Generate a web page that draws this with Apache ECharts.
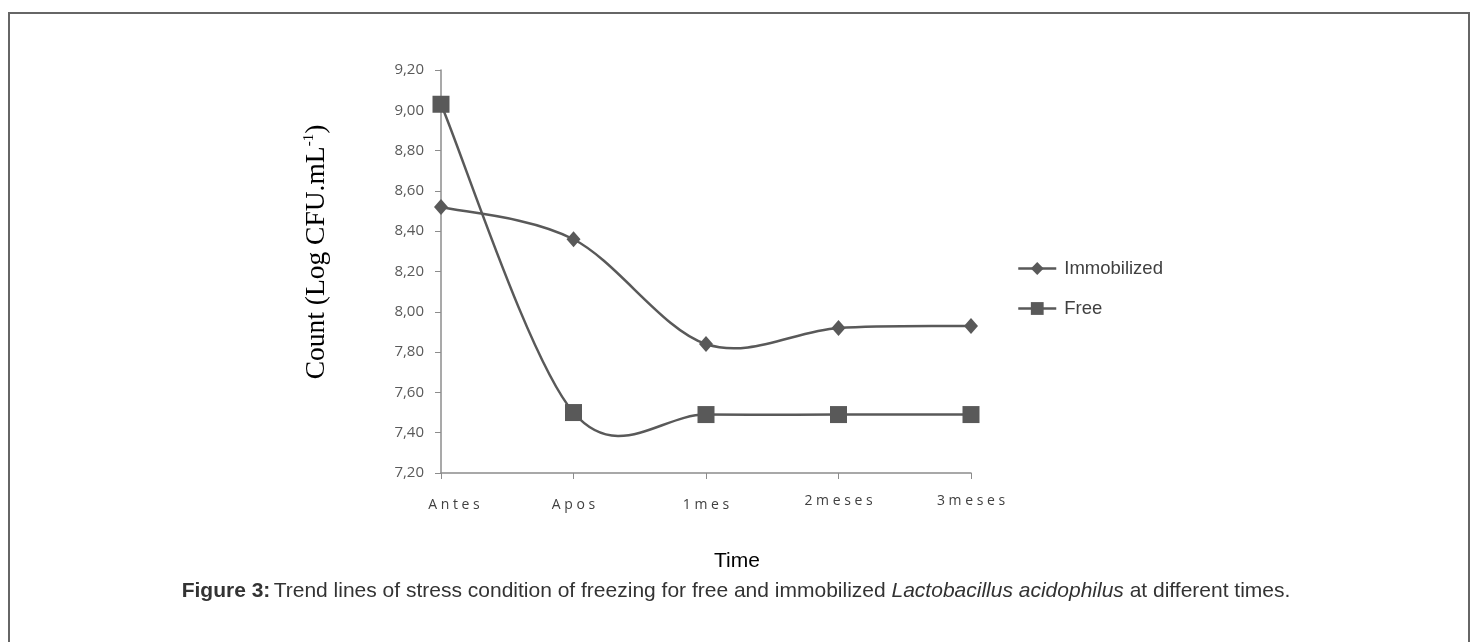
<!DOCTYPE html>
<html>
<head>
<meta charset="utf-8">
<script src="https://cdn.jsdelivr.net/npm/echarts@6/dist/echarts.min.js"></script>
<style>
  html, body { margin: 0; padding: 0; background: #fff; }
  #main { width: 1473px; height: 642px; }
</style>
</head>
<body>
<div id="main"></div>
<script>
// data
var categories = ['Antes', 'Apos', '1mes', '2meses', '3meses']
var immobilized = [8.52, 8.36, 7.84, 7.92, 7.93]
var free = [9.03, 7.50, 7.49, 7.49, 7.49]
var yTicks = [7.2, 9.2, 0.2] // min, max, step

var chart = echarts.init(document.getElementById('main'))

function spaced (s) {
  return s.split('').join(' ')
}

// excel-like smoothed line (catmull-rom through the points), drawn with the axis scales
function curveSeries (name, values) {
  return {
    name: name + ' curve',
    type: 'custom',
    z: 1,
    silent: true,
    data: values.map(function (v, k) { return [k, v] }),
    renderItem: function (params, api) {
      if (params.dataIndex !== 0) return null
      var p = values.map(function (v, k) { return api.coord([k, v]) })
      var kids = []
      for (var k = 0; k < p.length - 1; k++) {
        var p0 = p[Math.max(k - 1, 0)]
        var p1 = p[k]
        var p2 = p[k + 1]
        var p3 = p[Math.min(k + 2, p.length - 1)]
        kids.push({
          type: 'bezierCurve',
          shape: {
            x1: p1[0], y1: p1[1],
            x2: p2[0], y2: p2[1],
            cpx1: p1[0] + (p2[0] - p0[0]) / 6,
            cpy1: p1[1] + (p2[1] - p0[1]) / 6,
            cpx2: p2[0] - (p3[0] - p1[0]) / 6,
            cpy2: p2[1] - (p3[1] - p1[1]) / 6
          },
          style: { fill: 'none', stroke: '#595959', lineWidth: 2.5 }
        })
      }
      return { type: 'group', children: kids }
    }
  }
}

var labelFont = { fontFamily: 'Open Sans', fontSize: 14, color: '#404040' }

var option = {
  backgroundColor: '#fff',
  animation: false,
  grid: {
    left: 441,
    right: 502,
    top: 70,
    bottom: 169
  },
  legend: {
    orient: 'vertical',
    left: 1012,
    top: 254,
    itemWidth: 38,
    itemHeight: 16,
    itemGap: 21,
    lineStyle: { color: '#595959', width: 2.5, opacity: 1 },
    textStyle: {
      fontFamily: 'Liberation Sans',
      fontSize: 18.5,
      color: '#404040',
      padding: [0, 0, 0, 3]
    },
    data: ['Immobilized', 'Free']
  },
  xAxis: {
    type: 'category',
    boundaryGap: false,
    data: categories,
    axisLine: { lineStyle: { color: '#8c8c8c', width: 1.5 } },
    axisTick: { show: true, length: 6, interval: 0, alignWithLabel: true, lineStyle: { color: '#8c8c8c' } },
    axisLabel: {
      interval: 0,
      hideOverlap: false,
      margin: 21,
      fontFamily: 'Open Sans',
      fontSize: 14,
      color: '#404040',
      formatter: function (v, i) {
        if (i === 0) return '{first|' + spaced(v) + '}'
        return i >= 3 ? '{up|' + spaced(v) + '}' : '{low|' + spaced(v) + '}'
      },
      rich: {
        first: Object.assign({ padding: [4, 0, 0, 26] }, labelFont),
        low: Object.assign({ padding: [4, 0, 0, 0] }, labelFont),
        up: Object.assign({ padding: [0, 0, 0, 0] }, labelFont)
      }
    }
  },
  yAxis: {
    type: 'value',
    min: yTicks[0],
    max: yTicks[1],
    interval: yTicks[2],
    splitLine: { show: false },
    axisLine: { show: true, lineStyle: { color: '#8c8c8c', width: 1.5 } },
    axisTick: { show: true, length: 6, lineStyle: { color: '#8c8c8c' } },
    axisLabel: {
      margin: 17,
      fontFamily: 'Open Sans',
      fontSize: 15,
      color: '#595959',
      formatter: function (v) {
        return v.toFixed(2).replace('.', ',')
      }
    }
  },
  series: [
    {
      name: 'Immobilized',
      type: 'line',
      z: 3,
      data: immobilized,
      symbol: 'diamond',
      symbolSize: [14, 16],
      lineStyle: { color: '#595959', width: 2.5, opacity: 0 },
      itemStyle: { color: '#595959' }
    },
    {
      name: 'Free',
      type: 'line',
      z: 3,
      data: free,
      symbol: 'rect',
      symbolSize: 17,
      lineStyle: { color: '#595959', width: 2.5, opacity: 0 },
      itemStyle: { color: '#595959' }
    },
    curveSeries('Immobilized', immobilized),
    curveSeries('Free', free)
  ],
  graphic: [
    {
      type: 'rect',
      shape: { x: 9, y: 13, width: 1460, height: 660 },
      style: { fill: 'none', stroke: '#666', lineWidth: 2 },
      silent: true
    },
    {
      type: 'text',
      x: 317,
      y: 252,
      rotation: Math.PI / 2,
      style: {
        text: '{n|Count (Log CFU.mL}{s|-1}{n|)}',
        align: 'center',
        verticalAlign: 'middle',
        rich: {
          n: { fontFamily: 'Liberation Serif', fontSize: 27.5, fill: '#000' },
          s: { fontFamily: 'Liberation Serif', fontSize: 15, fill: '#000', padding: [0, 0, 15, 0] }
        }
      }
    },
    {
      type: 'text',
      x: 737,
      y: 561,
      style: {
        text: 'Time',
        align: 'center',
        verticalAlign: 'middle',
        fontFamily: 'Liberation Sans',
        fontSize: 21,
        fill: '#000'
      }
    },
    {
      type: 'text',
      x: 736,
      y: 591,
      style: {
        text: '{b|Figure 3:} {n|Trend lines of stress condition of freezing for free and immobilized }{i|Lactobacillus acidophilus}{n| at different times.}',
        align: 'center',
        verticalAlign: 'middle',
        rich: {
          b: { fontFamily: 'Liberation Sans', fontSize: 21, fontWeight: 'bold', fill: '#333' },
          n: { fontFamily: 'Liberation Sans', fontSize: 21, fill: '#333' },
          i: { fontFamily: 'Liberation Sans', fontSize: 21, fontStyle: 'italic', fill: '#333' }
        }
      }
    }
  ]
}

chart.setOption(option)
</script>
</body>
</html>
